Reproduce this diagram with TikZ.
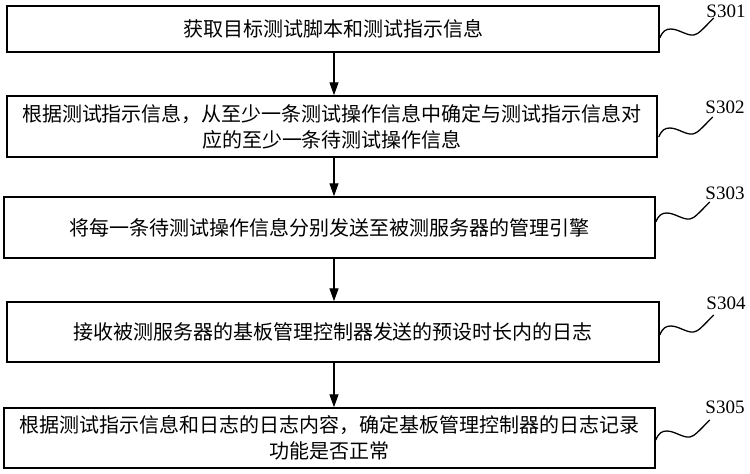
\documentclass[tikz,border=0pt]{standalone}
\usepackage{fontspec}
\setmainfont{Liberation Serif}
\newfontfamily\cjk{Noto Sans CJK SC}
\usetikzlibrary{arrows.meta}
\begin{document}
\begin{tikzpicture}[x=1pt,y=-1pt,
  box/.style={draw,line width=1.5pt,inner sep=0pt,font=\cjk\fontsize{20}{26}\selectfont,align=center},
  arr/.style={line width=1.3pt,-{Triangle[length=13pt,width=9pt]}},
  wv/.style={line width=1.3pt},
  lab/.style={font=\fontsize{19}{19}\selectfont,inner sep=0pt}]
\useasboundingbox[fill=white] (0,0) rectangle (750,474);
\node[box,minimum width=652pt,minimum height=46pt] (b1) at (333,29) {获取目标测试脚本和测试指示信息};
\node[box,minimum width=650pt,minimum height=61pt] (b2) at (332,126.5) {根据测试指示信息，从至少一条测试操作信息中确定与测试指示信息对\\应的至少一条待测试操作信息};
\node[box,minimum width=651pt,minimum height=61pt] (b3) at (329.5,227.5) {将每一条待测试操作信息分别发送至被测服务器的管理引擎};
\node[box,minimum width=652pt,minimum height=60pt] (b4) at (333,332) {接收被测服务器的基板管理控制器发送的预设时长内的日志};
\node[box,minimum width=651pt,minimum height=60pt] (b5) at (329.5,438) {根据测试指示信息和日志的日志内容，确定基板管理控制器的日志记录\\功能是否正常};
\coordinate (ax) at (334,0);
\draw[arr] (b1.south -| ax) -- (b2.north -| ax);
\draw[arr] (b2.south -| ax) -- (b3.north -| ax);
\draw[arr] (b3.south -| ax) -- (b4.north -| ax);
\draw[arr] (b4.south -| ax) -- (b5.north -| ax);
\node[lab] (l1) at (726,11) {S301};
\node[lab] (l2) at (725,107) {S302};
\node[lab] (l3) at (725,193) {S303};
\node[lab] (l4) at (726,303) {S304};
\node[lab] (l5) at (725,407) {S305};
\coordinate (w1) at ([yshift=-9pt]b1.east);
\coordinate (w2) at ([yshift=-10.5pt,xshift=1pt]b2.east);
\coordinate (w3) at ([yshift=5.5pt]b3.east);
\coordinate (w4) at ([yshift=-3pt]b4.east);
\coordinate (w5) at ([yshift=-2pt]b5.east);
\foreach \w in {w1,w2,w3,w4,w5}{
  \begin{scope}[shift={(\w)}]
    \draw[wv] (0,0) .. controls (3,-7) and (6,-9) .. (11,-9)
      .. controls (19,-9) and (27,-2) .. (34,-3)
      .. controls (39,-4) and (42,-8) .. (54,-20);
  \end{scope}
}
\end{tikzpicture}
\end{document}
